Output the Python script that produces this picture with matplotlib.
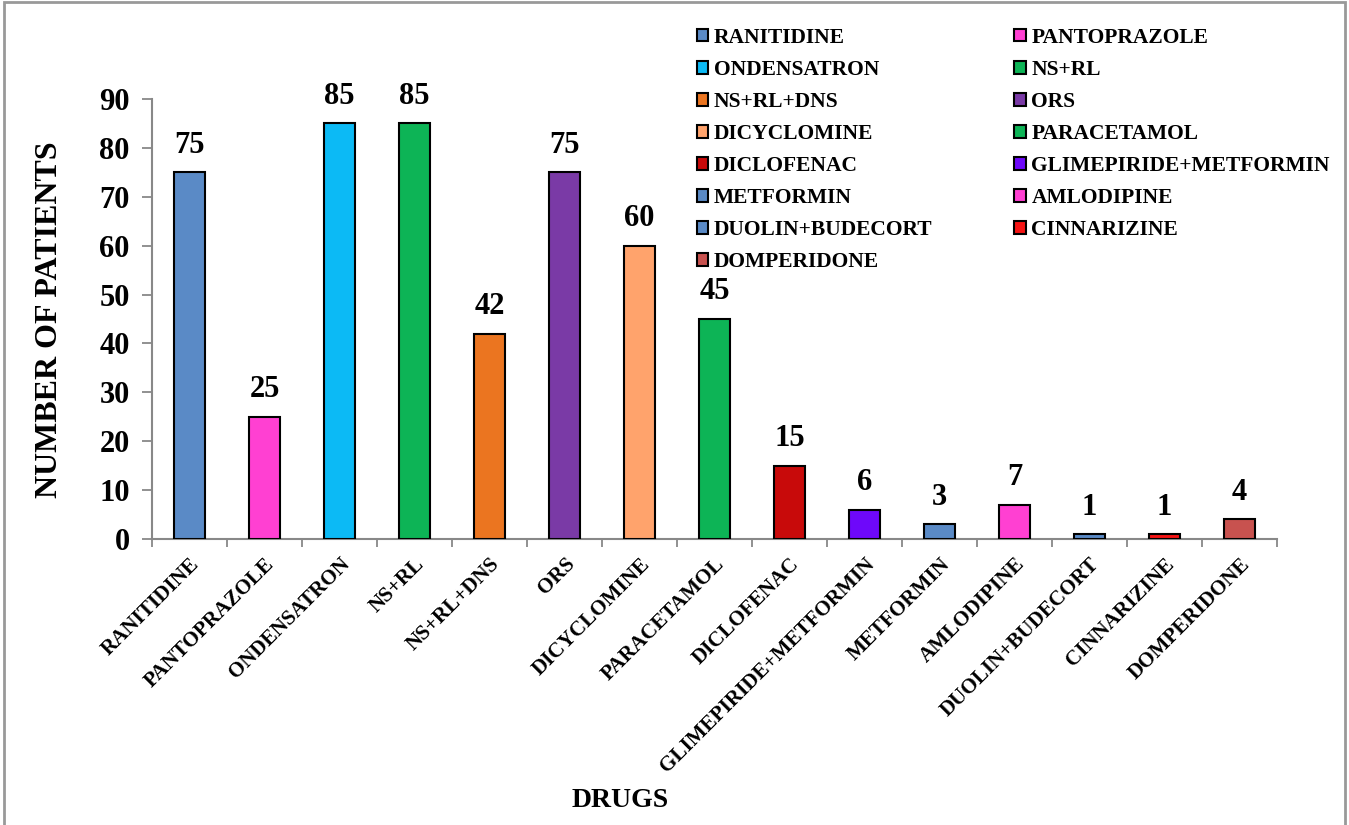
import matplotlib.pyplot as plt
from matplotlib.patches import Patch, Rectangle
import numpy as np

drugs = ['RANITIDINE', 'PANTOPRAZOLE', 'ONDENSATRON', 'NS+RL', 'NS+RL+DNS', 'ORS',
         'DICYCLOMINE', 'PARACETAMOL', 'DICLOFENAC', 'GLIMEPIRIDE+METFORMIN',
         'METFORMIN', 'AMLODIPINE', 'DUOLIN+BUDECORT', 'CINNARIZINE', 'DOMPERIDONE']
patients = [75, 25, 85, 85, 42, 75, 60, 45, 15, 6, 3, 7, 1, 1, 4]
colors = ['#5A8AC6', '#FF40D2', '#0CBAF5', '#0DB456', '#EB7520', '#7A3AA6',
          '#FFA36C', '#0DB456', '#C80A0A', '#6E08FA', '#5A8AC6', '#FF40D2',
          '#5A8AC6', '#F51414', '#C8524F']

plt.rcParams['font.family'] = 'Liberation Serif'
plt.rcParams['font.weight'] = 'bold'

fig = plt.figure(figsize=(13.49, 8.25), dpi=100)
ax = fig.add_axes([0.1127, 0.3467, 0.834, 0.5333])

x = np.arange(len(drugs))
ax.bar(x, patients, width=0.41, color=colors, edgecolor='black', linewidth=1.5, zorder=3)
for xi, v in zip(x, patients):
    ax.annotate(str(v), (xi, v), xytext=(0, 9), textcoords='offset points',
                ha='center', va='bottom', fontsize=22, fontweight='bold')

ax.set_xlim(-0.5, len(drugs) - 0.5)
ax.set_ylim(0, 90)
ax.set_yticks(range(0, 91, 10))
ax.tick_params(axis='y', labelsize=22, length=7, width=1.3, color='#888888', pad=9)
ax.set_xticks(x)
ax.set_xticklabels(drugs, rotation=45, ha='right', rotation_mode='anchor', fontsize=15.2)
ax.tick_params(axis='x', length=0, pad=11)
ax.set_xticks(np.arange(-0.5, len(drugs)), minor=True)
ax.tick_params(axis='x', which='minor', length=6, width=1.3, color='#888888')
for s in ['top', 'right']:
    ax.spines[s].set_visible(False)
for s in ['left', 'bottom']:
    ax.spines[s].set_color('#888888')
    ax.spines[s].set_linewidth(1.5)

fig.text(0.037, 0.613, 'NUMBER OF PATIENTS', rotation=90, ha='center', va='center',
         fontsize=23, fontweight='bold')
fig.text(0.46, 0.03, 'DRUGS', ha='center', va='center', fontsize=20, fontweight='bold')

# legend filled row by row: left column takes even items, right column odd items
handles = [Patch(facecolor=c, edgecolor='black', linewidth=1.5) for c in colors]
order = list(range(0, len(drugs), 2)) + list(range(1, len(drugs), 2))
fig.legend([handles[i] for i in order], [drugs[i] for i in order], ncol=2,
           loc='upper left', bbox_to_anchor=(0.502, 0.99), frameon=False,
           fontsize=15.5, handlelength=0.55, handleheight=0.55, handletextpad=0.25,
           columnspacing=3.8, labelspacing=0.56)

fig.patches.append(Rectangle((0.003, -0.01), 0.994, 1.007, transform=fig.transFigure,
                             fill=False, edgecolor='#999999', linewidth=2))

fig.savefig('out.png', dpi=100)
